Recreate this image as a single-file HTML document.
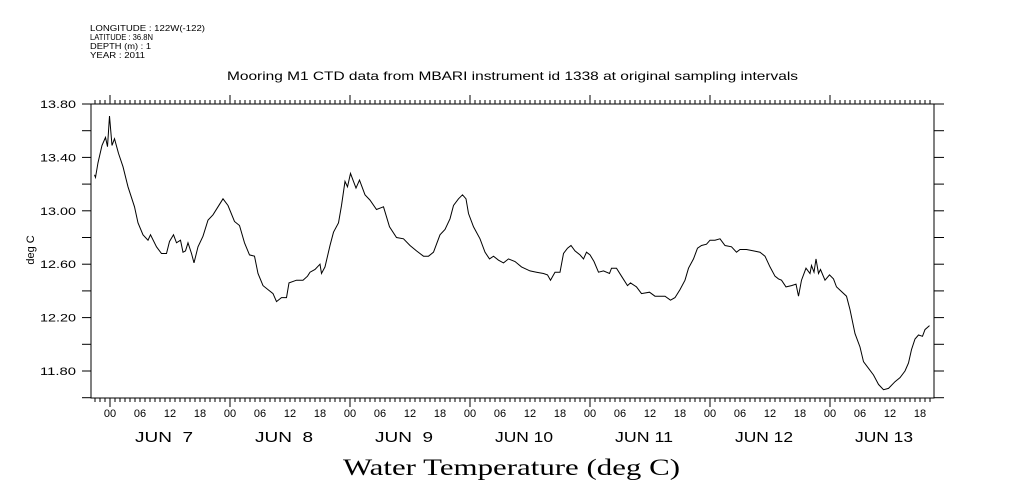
<!DOCTYPE html>
<html><head><meta charset="utf-8"><style>
html,body{margin:0;padding:0;background:#fff;}
svg{display:block;font-family:"Liberation Sans",sans-serif;}
</style></head><body>
<svg id="chart" width="1009" height="504" viewBox="0 0 1009 504" xmlns="http://www.w3.org/2000/svg">
<g font-size="8" fill="#000">
<text x="90" y="31" textLength="115" lengthAdjust="spacingAndGlyphs">LONGITUDE : 122W(-122)</text>
<text x="90" y="40" textLength="63" lengthAdjust="spacingAndGlyphs">LATITUDE : 36.8N</text>
<text x="90" y="49" textLength="61" lengthAdjust="spacingAndGlyphs">DEPTH (m) : 1</text>
<text x="90" y="58" textLength="55" lengthAdjust="spacingAndGlyphs">YEAR : 2011</text>
</g>
<text x="227" y="80" textLength="571" lengthAdjust="spacingAndGlyphs" font-size="12">Mooring M1 CTD data from MBARI instrument id 1338 at original sampling intervals</text>
<text x="0" y="0" transform="translate(34,250) rotate(-90)" text-anchor="middle" font-size="11">deg C</text>
<text x="343" y="475" textLength="337" lengthAdjust="spacingAndGlyphs" font-family="'Liberation Serif',serif" font-size="23">Water Temperature (deg C)</text>
<rect x="91" y="104" width="843" height="294" fill="none" stroke="#000" stroke-width="1"/>
<g id="axes"></g>
<path id="series" fill="none" stroke="#000" stroke-width="1"/>
</svg>
<script>
// hours relative to Jun 7 00:00
const hours = [-3.1,-2.9,-2.4,-1.6,-0.9,-0.5,-0.1,0.4,0.9,1.7,2.6,3.6,4.9,5.6,6.6,7.6,8.1,9.3,10.3,11.3,11.9,12.7,13.3,14.1,14.6,15.1,15.6,16.3,16.8,17.6,18.6,19.6,20.6,21.6,22.6,23.6,24.9,25.9,26.9,27.9,28.9,29.6,30.6,31.6,32.6,33.3,34.3,35.3,35.8,37.3,38.6,39.5,40,41,42,42.3,43,44,44.7,45.7,46.3,47,47.5,48.1,48.7,49.2,49.9,51,52,53.3,54.7,55.9,57.3,58.7,60,61.3,62.7,63.7,64.7,66,67,68,68.7,69.7,70.5,71.2,71.7,72.7,74,75,75.9,76.7,77.7,78.7,79.7,81,82.3,84,85.3,86.7,87.5,88.1,89,90,90.7,91.5,92.2,93,94,94.7,95.3,96,96.8,97.7,98.7,99.9,100.3,101.3,102.3,103.5,104.1,105.3,106.3,107.9,109,110,111,112.1,113,114,115,115.7,116.7,117.5,118.3,119.3,120,121,122,123,124.3,125.3,126,127.3,128.7,130,131,132,133,133.7,134.3,135.2,136.3,137.2,137.7,138.3,139.2,140,140.3,140.8,141.2,141.7,142.1,143,143.9,144.7,145.3,147.3,148,149,150,150.7,151.7,152.7,153.7,154.7,155.7,157,158,159,159.7,160.3,161,161.7,162.5,163,163.9];
const temps = [13.27,13.25,13.36,13.49,13.55,13.48,13.71,13.49,13.54,13.43,13.33,13.18,13.03,12.91,12.82,12.78,12.82,12.73,12.68,12.68,12.77,12.82,12.76,12.78,12.69,12.70,12.76,12.68,12.61,12.73,12.81,12.93,12.97,13.03,13.09,13.04,12.92,12.89,12.76,12.67,12.66,12.53,12.44,12.41,12.38,12.32,12.35,12.35,12.46,12.48,12.48,12.51,12.54,12.56,12.60,12.53,12.58,12.74,12.84,12.91,13.04,13.22,13.18,13.28,13.22,13.17,13.23,13.12,13.08,13.01,13.03,12.88,12.80,12.79,12.74,12.70,12.66,12.66,12.69,12.82,12.86,12.94,13.04,13.09,13.12,13.09,12.98,12.88,12.79,12.69,12.64,12.66,12.63,12.61,12.64,12.62,12.58,12.55,12.54,12.53,12.52,12.48,12.54,12.54,12.68,12.72,12.74,12.70,12.67,12.64,12.69,12.67,12.62,12.54,12.55,12.53,12.57,12.57,12.51,12.44,12.46,12.43,12.38,12.39,12.36,12.36,12.36,12.33,12.35,12.41,12.48,12.57,12.64,12.72,12.74,12.75,12.78,12.78,12.79,12.74,12.73,12.69,12.71,12.71,12.70,12.69,12.66,12.58,12.51,12.49,12.48,12.43,12.44,12.45,12.36,12.48,12.57,12.53,12.59,12.54,12.64,12.53,12.56,12.48,12.52,12.49,12.43,12.36,12.26,12.08,11.98,11.87,11.82,11.77,11.70,11.66,11.67,11.72,11.75,11.80,11.86,11.96,12.04,12.07,12.06,12.11,12.14];
const yTickLabels = ["13.80","13.40","13.00","12.60","12.20","11.80"];
const hourLabels = ["00","06","12","18"];
const dayLabels = ["JUN  7","JUN  8","JUN  9","JUN 10","JUN 11","JUN 12","JUN 13"];

const X0=91,X1=934,Y0=104,Y1=398;
const xs = h => 110 + h*5;
const ys = t => 104 + (13.8 - t)/0.4*53.4;
const NS='http://www.w3.org/2000/svg';
const axes=document.getElementById('axes');
function mk(tag,attrs){const e=document.createElementNS(NS,tag);for(const k in attrs)e.setAttribute(k,attrs[k]);axes.appendChild(e);return e;}

for(let h=-3;h<=164;h++){
  const x=xs(h); if(x<X0||x>X1) continue;
  const major=((h%24)+24)%24===0;
  const len=major?9:4;
  const t=mk('line',{x1:x,x2:x,y1:Y0,y2:Y0-len,stroke:'#000'});
  
  
  const b=mk('line',{x1:x,x2:x,y1:Y1,y2:Y1+len,stroke:'#000'});
  
  
}
for(let d=0;d<dayLabels.length;d++){
  for(let i=0;i<hourLabels.length;i++){
    const x=xs(d*24+i*6); if(x>X1) continue;
    const tx=mk('text',{x:x,y:417,'text-anchor':'middle','font-size':'11'});
    tx.textContent=hourLabels[i];
    
    
  }
  const dl=mk('text',{x:xs(d*24+12)-35,y:442,'font-size':'15',textLength:'58',lengthAdjust:'spacingAndGlyphs'});
  dl.setAttribute('style','white-space:pre');
  dl.textContent=dayLabels[d];
  
  
}
for(let i=0;i<yTickLabels.length;i++){
  const v=parseFloat(yTickLabels[i]);
  const y=ys(v);
  const lb=mk('text',{x:40,y:y+4,'font-size':'11',textLength:'36',lengthAdjust:'spacingAndGlyphs'});
  lb.textContent=yTickLabels[i];
  
  
}
for(let v=13.8;v>11.6;v-=0.2){
  const y=ys(v); if(y>Y1) continue;
  const r=mk('line',{x1:X1,x2:X1+10,y1:y,y2:y,stroke:'#000'});
  
  
  const m=mk('line',{x1:X0-9,x2:X0,y1:y,y2:y,stroke:'#000'});
  
  
}
let d='';
for(let i=0;i<hours.length;i++){d+=(i?'L':'M')+xs(hours[i]).toFixed(1)+','+ys(temps[i]).toFixed(1);}
document.getElementById('series').setAttribute('d',d);
</script>
</body></html>
